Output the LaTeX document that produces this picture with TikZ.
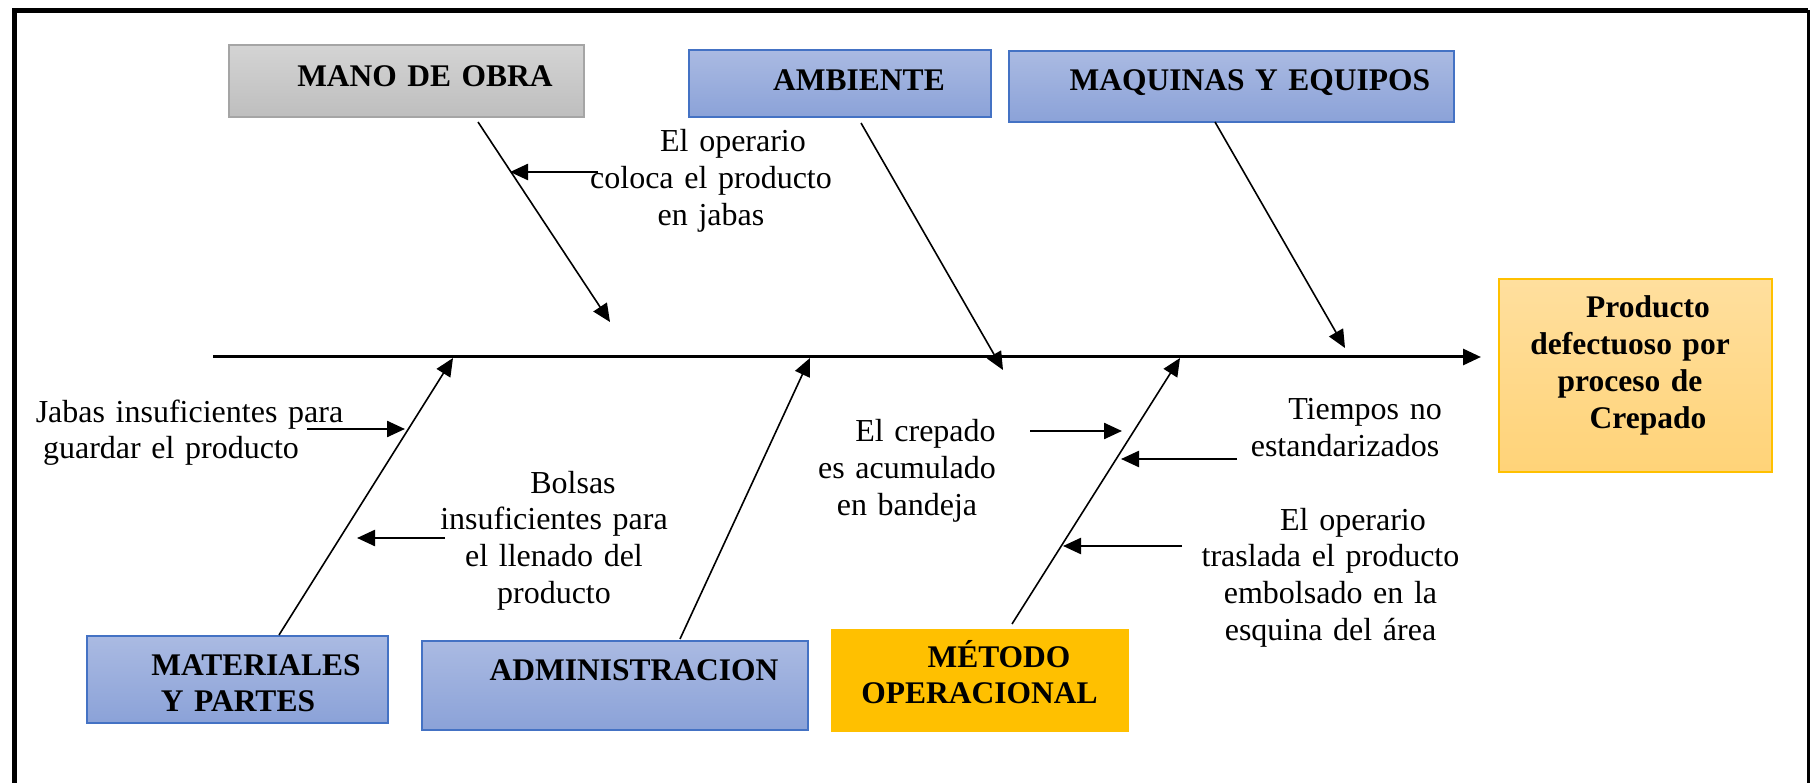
\documentclass[tikz,border=0pt]{standalone}
\usepackage{fontspec}
\setmainfont{Liberation Serif}
\usetikzlibrary{arrows.meta}
\definecolor{blueTop}{RGB}{170,186,226}
\definecolor{blueBot}{RGB}{139,162,216}
\definecolor{blueLine}{RGB}{68,114,196}
\definecolor{greyTop}{RGB}{212,212,212}
\definecolor{greyBot}{RGB}{190,190,190}
\definecolor{greyLine}{RGB}{165,165,165}
\definecolor{orTop}{RGB}{255,223,158}
\definecolor{orBot}{RGB}{255,211,120}
\definecolor{orLine}{RGB}{255,192,0}
\definecolor{metFill}{RGB}{255,192,0}
\tikzset{
  bluebox/.style={draw=blueLine, line width=2pt, top color=blueTop, bottom color=blueBot, inner sep=0pt},
  greybox/.style={draw=greyLine, line width=1.5pt, top color=greyTop, bottom color=greyBot, inner sep=0pt},
  orbox/.style={draw=orLine, line width=2pt, top color=orTop, bottom color=orBot, inner sep=0pt},
  metbox/.style={fill=metFill, draw=metFill, line width=1pt, inner sep=0pt},
  boxtext/.style={font=\fontsize{31.5}{36.7}\selectfont\bfseries, inner sep=0pt, anchor=base, text width=420pt, align=center},
  lbl/.style={font=\fontsize{32}{36.7}\selectfont, inner sep=0pt, anchor=base, text width=420pt, align=center},
  tipa/.style={-{Triangle[length=18pt,width=16pt]}},
  spine/.style={tipa, line width=3pt},
  bone/.style={tipa, line width=1.6pt},
  sub/.style={tipa, line width=2.4pt},
  frame/.style={line width=4.5pt, black}
}
\begin{document}
\begin{tikzpicture}[x=1pt, y=-1pt]
\useasboundingbox (0,0) rectangle (1810,783);
% frame
\draw[frame] (14.5,783) -- (14.5,10.5) -- (1808,10.5);
\draw[line width=3pt] (1808,10.5) -- (1808,783);

% boxes
\node[greybox, minimum width=355pt, minimum height=72pt] (mano) at (406.5,81) {};
\node[bluebox, minimum width=302pt, minimum height=67pt] (amb) at (840,83.5) {};
\node[bluebox, minimum width=445pt, minimum height=71pt] (maq) at (1231.5,86.5) {};
\node[orbox, minimum width=273pt, minimum height=193pt] (efecto) at (1635.5,375.5) {};
\node[bluebox, minimum width=301pt, minimum height=87pt] (mat) at (237.5,679.5) {};
\node[bluebox, minimum width=386pt, minimum height=89pt] (adm) at (615,685.5) {};
\node[metbox, minimum width=297pt, minimum height=102pt] (met) at (979.5,680) {};

% box texts
\node[boxtext] (tmano) at (425,87) {MANO DE OBRA};
\node[boxtext] (tamb) at (859,91) {AMBIENTE};
\node[boxtext] (tmaq) at (1250,91) {MAQUINAS Y EQUIPOS};
\node[boxtext] (tefecto) at (1630,318) {\hspace*{36pt}Producto\\defectuoso por\\proceso de\\\hspace*{36pt}Crepado};
\node[boxtext] (tmat) at (238,675) {\hspace*{36pt}MATERIALES\\Y PARTES};
\node[boxtext] (tadm) at (634,680) {ADMINISTRACION};
\node[boxtext] (tmet) at (979.5,667) {\hspace*{39pt}MÉTODO\\OPERACIONAL};

% labels
\node[lbl] (l1) at (711,152) {\hspace*{44pt}El operario\\coloca el producto\\en jabas};
\node[lbl] (l2) at (171,422) {\hspace*{37pt}Jabas insuficientes para\\guardar el producto};
\node[lbl] (l3) at (554,493) {\hspace*{38pt}Bolsas\\insuficientes para\\el llenado del\\producto};
\node[lbl] (l4) at (907,442) {\hspace*{37pt}El crepado\\es acumulado\\en bandeja};
\node[lbl] (l5) at (1345,420) {\hspace*{40pt}Tiempos no\\estandarizados};
\node[lbl] (l6) at (1330.5,530) {\hspace*{45pt}El operario\\traslada el producto\\embolsado en la\\esquina del área};

% coordinates
\coordinate (spS) at (213,357);
\coordinate (spE) at (1481,357);
\coordinate (manoT) at (478,122);   \coordinate (manoH) at (610,322);
\coordinate (ambT) at (861,123);    \coordinate (ambH) at (1003,370);
\coordinate (maqT) at (1215,122);   \coordinate (maqH) at (1345,348);
\coordinate (matT) at (279,635);    \coordinate (matH) at (453,358);
\coordinate (admT) at (680,639);    \coordinate (admH) at (810,358);
\coordinate (metT) at (1012,624);   \coordinate (metH) at (1180,358);
\coordinate (s1a) at (598,172);  \coordinate (s1b) at (510,172);
\coordinate (s2a) at (307,429);  \coordinate (s2b) at (405,429);
\coordinate (s3a) at (445,538);  \coordinate (s3b) at (357,538);
\coordinate (s4a) at (1030,431); \coordinate (s4b) at (1122,431);
\coordinate (s5a) at (1237,459); \coordinate (s5b) at (1121,459);
\coordinate (s6a) at (1182,546); \coordinate (s6b) at (1063,546);

% spine and bones
\draw[spine] (spS) -- (spE);
\draw[bone] (manoT) -- (manoH);
\draw[bone] (ambT) -- (ambH);
\draw[bone] (maqT) -- (maqH);
\draw[bone] (matT) -- (matH);
\draw[bone] (admT) -- (admH);
\draw[bone] (metT) -- (metH);

% sub-cause arrows
\draw[sub] (s1a) -- (s1b);
\draw[sub] (s2a) -- (s2b);
\draw[sub] (s3a) -- (s3b);
\draw[sub] (s4a) -- (s4b);
\draw[sub] (s5a) -- (s5b);
\draw[sub] (s6a) -- (s6b);
\end{tikzpicture}
\end{document}
